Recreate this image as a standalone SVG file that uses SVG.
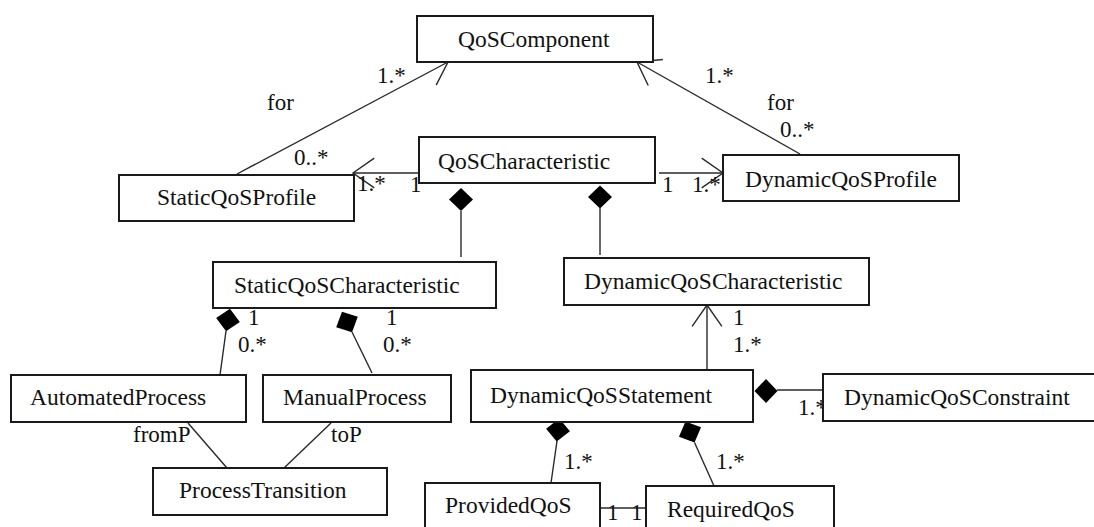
<svg xmlns="http://www.w3.org/2000/svg" width="1094" height="527" viewBox="0 0 1094 527">
  <style>
    .box { fill: #ffffff; stroke: #1a1a1a; stroke-width: 2; }
    .name { font-family: "Liberation Serif", "Times New Roman", serif; font-size: 23.5px; fill: #111; }
    .lbl { font-family: "Liberation Serif", "Times New Roman", serif; font-size: 23px; fill: #111; }
    .edge { fill: none; stroke: #2a2a2a; stroke-width: 1.4; }
    .arrow { marker-end: url(#open); }
    .dia { fill: #000; stroke: none; }
  </style>
  <defs>
    <!-- open navigability arrowhead -->
    <marker id="open" markerUnits="userSpaceOnUse" orient="auto" refX="0" refY="0" markerWidth="40" markerHeight="40" overflow="visible">
      <path d="M -21.3 -14.9 L 0 0 L -21.3 14.9" fill="none" stroke="#2a2a2a" stroke-width="1.4"/>
    </marker>
    <!-- composition diamond, axis vertical -->
    <polygon id="diamond" points="0,-11.5 12,0 0,11.5 -12,0"/>
  </defs>

  <rect width="1094" height="527" fill="#ffffff"/>

  <!-- connectors -->
  <g id="connectors">
    <!-- StaticQoSProfile / DynamicQoSProfile to QoSComponent -->
    <line class="edge arrow" x1="237" y1="174" x2="448" y2="62"/>
    <line class="edge arrow" x1="800" y1="154" x2="637" y2="62"/>
    <!-- QoSCharacteristic to profiles -->
    <line class="edge arrow" x1="419" y1="173" x2="353" y2="173"/>
    <line class="edge arrow" x1="659" y1="173" x2="723" y2="173"/>
    <!-- QoSCharacteristic compositions -->
    <use href="#diamond" class="dia" x="461" y="199.5"/>
    <line class="edge" x1="461" y1="211" x2="461" y2="257"/>
    <use href="#diamond" class="dia" x="600" y="197"/>
    <line class="edge" x1="600" y1="208" x2="600" y2="255"/>
    <!-- StaticQoSCharacteristic compositions -->
    <use href="#diamond" class="dia" transform="translate(228 320) rotate(9.7)"/>
    <line class="edge" x1="226" y1="331" x2="220" y2="375"/>
    <use href="#diamond" class="dia" transform="translate(347 322) rotate(-26)"/>
    <line class="edge" x1="352" y1="332" x2="372" y2="373"/>
    <!-- process transition ends -->
    <line class="edge" x1="188" y1="423" x2="227" y2="468"/>
    <line class="edge" x1="331" y1="423" x2="284" y2="468"/>
    <!-- DynamicQoSStatement to DynamicQoSCharacteristic -->
    <line class="edge arrow" x1="707" y1="370" x2="707" y2="305"/>
    <!-- DynamicQoSStatement compositions -->
    <use href="#diamond" class="dia" transform="translate(766 391) rotate(90)"/>
    <line class="edge" x1="777" y1="390" x2="823" y2="390"/>
    <use href="#diamond" class="dia" transform="translate(558 430) rotate(6.5)"/>
    <line class="edge" x1="557" y1="441" x2="551" y2="483"/>
    <use href="#diamond" class="dia" transform="translate(690 432) rotate(-23.2)"/>
    <line class="edge" x1="694.5" y1="442.5" x2="714" y2="486"/>
    <!-- ProvidedQoS - RequiredQoS -->
    <line class="edge" x1="600" y1="508" x2="646" y2="508"/>
  </g>

  <!-- multiplicities and role names -->
  <g id="labels">
    <text class="lbl" x="377" y="83">1.*</text>
    <text class="lbl" x="267" y="110">for</text>
    <text class="lbl" x="294" y="165">0..*</text>
    <text class="lbl" x="705" y="83">1.*</text>
    <text class="lbl" x="767" y="110">for</text>
    <text class="lbl" x="780" y="137">0..*</text>
    <text class="lbl" x="357" y="191">1.*</text>
    <text class="lbl" x="410" y="192">1</text>
    <text class="lbl" x="662" y="192">1</text>
    <text class="lbl" x="692" y="192">1.*</text>
    <text class="lbl" x="248" y="325">1</text>
    <text class="lbl" x="238" y="352">0.*</text>
    <text class="lbl" x="386" y="325">1</text>
    <text class="lbl" x="383" y="352">0.*</text>
    <text class="lbl" x="133" y="442">fromP</text>
    <text class="lbl" x="331" y="442">toP</text>
    <text class="lbl" x="733" y="325">1</text>
    <text class="lbl" x="733" y="352">1.*</text>
    <text class="lbl" x="798" y="415">1.*</text>
    <text class="lbl" x="564" y="469">1.*</text>
    <text class="lbl" x="716" y="469">1.*</text>
    <text class="lbl" x="607" y="520">1</text>
    <text class="lbl" x="631" y="520">1</text>
  </g>

  <!-- classes -->
  <g id="QoSComponent">
    <rect class="box" x="417" y="16" width="236" height="46"/>
    <text class="name" x="458" y="47">QoSComponent</text>
  </g>
  <g id="QoSCharacteristic">
    <rect class="box" x="419" y="137" width="236" height="46"/>
    <text class="name" x="438" y="169">QoSCharacteristic</text>
  </g>
  <g id="StaticQoSProfile">
    <rect class="box" x="119" y="175" width="235" height="46"/>
    <text class="name" x="157" y="205">StaticQoSProfile</text>
  </g>
  <g id="DynamicQoSProfile">
    <rect class="box" x="723" y="155" width="236" height="46"/>
    <text class="name" x="745" y="187">DynamicQoSProfile</text>
  </g>
  <g id="StaticQoSCharacteristic">
    <rect class="box" x="213" y="262" width="283" height="46"/>
    <text class="name" x="234" y="293">StaticQoSCharacteristic</text>
  </g>
  <g id="DynamicQoSCharacteristic">
    <rect class="box" x="564" y="258" width="305" height="47"/>
    <text class="name" x="584" y="289">DynamicQoSCharacteristic</text>
  </g>
  <g id="AutomatedProcess">
    <rect class="box" x="11" y="375" width="235" height="47"/>
    <text class="name" x="30" y="405">AutomatedProcess</text>
  </g>
  <g id="ManualProcess">
    <rect class="box" x="263" y="375" width="188" height="47"/>
    <text class="name" x="283" y="405">ManualProcess</text>
  </g>
  <g id="ProcessTransition">
    <rect class="box" x="153" y="468" width="234" height="47"/>
    <text class="name" x="179" y="498">ProcessTransition</text>
  </g>
  <g id="DynamicQoSStatement">
    <rect class="box" x="471" y="370" width="282" height="52"/>
    <text class="name" x="490" y="403">DynamicQoSStatement</text>
  </g>
  <g id="DynamicQoSConstraint">
    <rect class="box" x="823" y="374" width="280" height="47"/>
    <text class="name" x="844" y="405">DynamicQoSConstraint</text>
  </g>
  <g id="ProvidedQoS">
    <rect class="box" x="425" y="483" width="175" height="55"/>
    <text class="name" x="445" y="513">ProvidedQoS</text>
  </g>
  <g id="RequiredQoS">
    <rect class="box" x="646" y="486" width="188" height="52"/>
    <text class="name" x="667" y="517">RequiredQoS</text>
  </g>
</svg>
